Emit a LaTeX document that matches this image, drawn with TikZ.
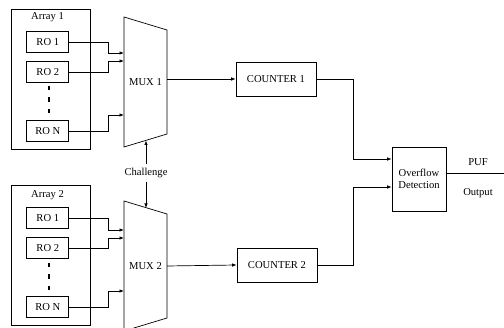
\documentclass[tikz,border=0pt]{standalone}
\usepackage{fontspec}
\setmainfont{Liberation Serif}
\usetikzlibrary{positioning,arrows.meta}

\tikzset{
    rob/.style={draw, rectangle, minimum width=42pt, minimum height=21pt, inner sep=0pt},
    cntb/.style={draw, rectangle, minimum width=80pt, minimum height=34pt, inner sep=0pt},
    arrb/.style={draw, rectangle, minimum width=79pt, minimum height=140pt},
    arr/.style={-{Latex[length=4.5pt,width=3.5pt]}},
}

\begin{document}
\begin{tikzpicture}[x=1pt, y=-1pt, line width=0.7pt, font=\fontsize{10.6}{12.5}\selectfont]
    \useasboundingbox (0,0) rectangle (504,328);

    % arrays of ring oscillators
    \node (arr1) [arrb] at (51.2,79) {};
    \node (lab1) at (47.5,17) {Array 1};
    \node (ro11) [rob] at (47.8,42) {RO 1};
    \node (ro12) [rob] at (47.8,72) {RO 2};
    \node (ro1n) [rob] at (47.8,131) {RO N};
    \foreach \y in {88,99.5,111} \fill (48,\y-2.2) rectangle +(2.2,4.4);

    \node (arr2) [arrb] at (51.2,255) {};
    \node (lab2) at (47.5,195) {Array 2};
    \node (ro21) [rob] at (47.8,218) {RO 1};
    \node (ro22) [rob] at (47.8,248) {RO 2};
    \node (ro2n) [rob] at (47.8,307) {RO N};
    \foreach \y in {265,276.5,288} \fill (48,\y-2.2) rectangle +(2.2,4.4);

    % multiplexers
    \draw (124,17) -- (167,30) -- (167,134) -- (124,147) -- cycle;
    \node (mux1) at (145.5,82) {MUX 1};
    \draw (124,201) -- (167,214) -- (167,318) -- (124,331) -- cycle;
    \node (mux2) at (145.5,266) {MUX 2};

    \coordinate (m1a) at (124,53);
    \coordinate (m1b) at (124,61);
    \coordinate (m1n) at (124,115);
    \coordinate (m2a) at (124,230);
    \coordinate (m2b) at (124,238);
    \coordinate (m2n) at (124,291);
    \coordinate (m1out) at (167,79);
    \coordinate (m2out) at (167,266);
    \coordinate (m1bot) at (146,140.5);
    \coordinate (m2top) at (146,208);

    \draw[arr] (ro11.east) -- ++(39,0) |- (m1a);
    \draw[arr] (ro12.east) -- ++(39,0) |- (m1b);
    \draw[arr] (ro1n.east) -- ++(39,0) |- (m1n);
    \draw[arr] (ro21.east) -- ++(39,0) |- (m2a);
    \draw[arr] (ro22.east) -- ++(39,0) |- (m2b);
    \draw[arr] (ro2n.east) -- ++(39,0) |- (m2n);

    % challenge
    \node (chal) at (146,173) {Challenge};
    \draw[arr] (chal.north) -- (m1bot);
    \draw[arr] (chal.south) -- (m2top);

    % counters
    \node (cnt1) [cntb] at (276,79) {COUNTER 1};
    \node (cnt2) [cntb] at (277,265) {COUNTER 2};
    \draw[arr] (m1out) -- (cnt1.west);
    \draw[arr] (m2out) -- (cnt2.west);

    % overflow detection
    \node (ovf) [draw, rectangle, minimum width=54pt, minimum height=64pt, align=center, inner sep=0pt] at (419,179) {Overflow\\Detection};
    \draw[arr] (cnt1.east) -- ++(37,0) |- ([yshift=20pt]ovf.west);
    \draw[arr] (cnt2.east) -- ++(36,0) |- ([yshift=-8pt]ovf.west);

    \coordinate (puf) at (503.5,173);
    \draw ([yshift=6pt]ovf.east) -- (puf);
    \node (pufa) at (478,162) {PUF};
    \node (pufb) at (478,193) {Output};
\end{tikzpicture}
\end{document}
